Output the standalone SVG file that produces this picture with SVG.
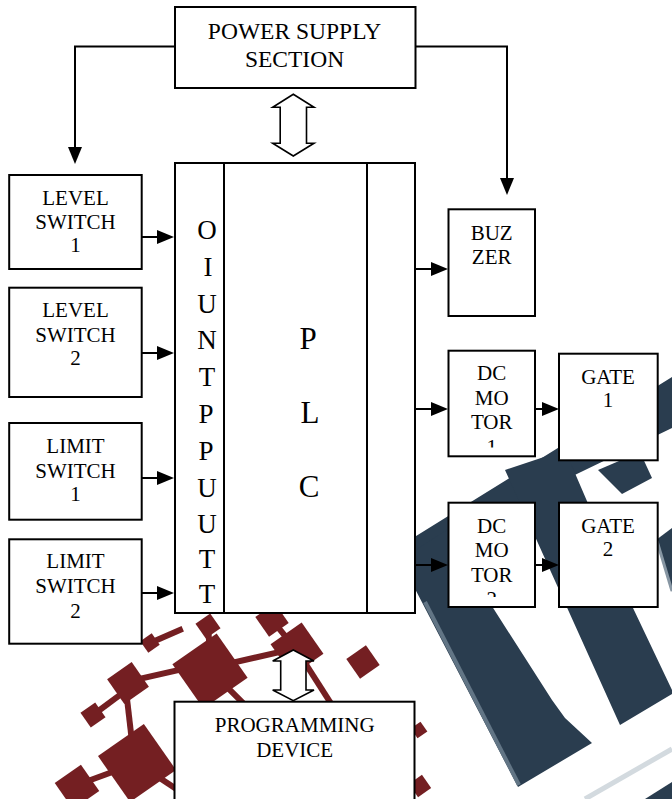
<svg xmlns="http://www.w3.org/2000/svg" width="672" height="799" viewBox="0 0 672 799">
<style>
.box{fill:#fff;stroke:#000;stroke-width:2}
.t{font-family:"Liberation Serif","Times New Roman",serif;font-size:21px;fill:#000;text-anchor:middle}
.big{font-size:23.5px}
.col{font-size:27px}
.plc{font-size:31px}
.ln{fill:none;stroke:#000;stroke-width:2}
.dbl{fill:#fff;stroke:#000;stroke-width:1.6;stroke-linejoin:miter}
.blue{fill:#2a3d4f}
.red{fill:#741f22}
.redl{stroke:#741f22;stroke-width:6;stroke-linecap:square;fill:none}
</style>
<defs>
<marker id="ah" viewBox="0 0 17 14" refX="11" refY="7" markerWidth="17" markerHeight="14" markerUnits="userSpaceOnUse" orient="auto">
<path d="M0,0 L17,7 L0,14 z" fill="#000"/>
</marker>
<clipPath id="clipDc1"><rect x="448" y="350" width="88" height="97.5"/></clipPath>
<clipPath id="clipDc2"><rect x="448" y="502" width="88" height="95"/></clipPath>
</defs>
<rect width="672" height="799" fill="#fff"/>
<g id="background">
<polygon class="blue" points="400,546 672,377 672,428 552,486 400,582"/>
<polygon class="blue" points="598,470 640,452 652,478 622,494"/>
<polygon class="blue" points="400,560 470,515 488,600 552,700 565,718 592,743 518,787"/>
<line x1="425" y1="602" x2="519" y2="785" stroke="#627585" stroke-width="4"/>
<polygon class="blue" points="505,470 565,450 633,608 672,690 672,694 620,725"/>
<polygon class="blue" points="656,540 672,528 672,592"/>
<line x1="657" y1="541" x2="672" y2="591" stroke="#8796a3" stroke-width="3"/>
<line x1="585" y1="799" x2="672" y2="749" stroke="#d3dadf" stroke-width="5"/>
<polygon class="blue" points="645,799 672,782 672,799"/>
<g>
<line class="redl" x1="77" y1="785" x2="137" y2="763"/>
<line class="redl" x1="126" y1="690" x2="132" y2="742"/>
<line class="redl" x1="135" y1="680" x2="205" y2="664"/>
<line class="redl" x1="210" y1="668" x2="297" y2="648"/>
<line class="redl" x1="215" y1="675" x2="248" y2="708"/>
<line class="redl" x1="300" y1="655" x2="332" y2="705"/>
<line class="redl" x1="208" y1="625" x2="210" y2="655"/>
<line class="redl" x1="272" y1="620" x2="295" y2="648"/>
<line class="redl" x1="150" y1="643" x2="180" y2="630"/>
<line class="redl" x1="137" y1="763" x2="178" y2="790"/>
<line class="redl" x1="93" y1="715" x2="120" y2="695"/>
<rect class="red" x="-28" y="-28" width="56" height="56" transform="translate(137,763) rotate(-35)"/>
<rect class="red" x="-16" y="-16" width="32" height="32" transform="translate(77,787) rotate(-35)"/>
<rect class="red" x="-9" y="-9" width="18" height="18" transform="translate(93,715) rotate(-35)"/>
<rect class="red" x="-15" y="-15" width="30" height="30" transform="translate(128,683) rotate(-35)"/>
<rect class="red" x="-27" y="-27" width="54" height="54" transform="translate(210,671) rotate(-35)"/>
<rect class="red" x="-19" y="-19" width="38" height="38" transform="translate(297,649) rotate(-35)"/>
<rect class="red" x="-12" y="-12" width="24" height="24" transform="translate(363,662) rotate(-35)"/>
<rect class="red" x="-12" y="-12" width="24" height="24" transform="translate(272,620) rotate(-35)"/>
<rect class="red" x="-9" y="-9" width="18" height="18" transform="translate(208,626) rotate(-35)"/>
<rect class="red" x="-7" y="-7" width="14" height="14" transform="translate(150,643) rotate(-35)"/>
<rect class="red" x="-6" y="-6" width="12" height="12" transform="translate(419,730) rotate(-35)"/>
<rect class="red" x="-8" y="-8" width="16" height="16" transform="translate(420,786) rotate(-35)"/>
</g>
</g>
<g id="power-supply">
<rect class="box" x="175" y="7" width="240.5" height="81"/>
<text class="t big" x="294.5" y="39.3">POWER SUPPLY</text>
<text class="t big" x="294.5" y="66.7">SECTION</text>
</g>
<g id="plc">
<rect class="box" x="175" y="163" width="240" height="450"/>
<line class="ln" x1="224" y1="163" x2="224" y2="613"/>
<line class="ln" x1="367" y1="163" x2="367" y2="613"/>
<text class="t col" x="207" y="239">O</text>
<text class="t col" x="208" y="275.8">I</text>
<text class="t col" x="207" y="312.8">U</text>
<text class="t col" x="207" y="349.4">N</text>
<text class="t col" x="207" y="386.2">T</text>
<text class="t col" x="206" y="423">P</text>
<text class="t col" x="206" y="459.6">P</text>
<text class="t col" x="207" y="496.6">U</text>
<text class="t col" x="207" y="533.2">U</text>
<text class="t col" x="207" y="567.8">T</text>
<text class="t col" x="207" y="603.3">T</text>
<text class="t plc" x="308" y="349.3">P</text>
<text class="t plc" x="310" y="423.3">L</text>
<text class="t plc" x="309" y="497">C</text>
</g>
<g id="level-switch-1">
<rect class="box" x="9.2" y="175" width="132.5" height="94"/>
<text class="t" x="75.5" y="205">LEVEL</text>
<text class="t" x="75.5" y="228.5">SWITCH</text>
<text class="t" x="75.5" y="252">1</text>
</g>
<g id="level-switch-2">
<rect class="box" x="9.2" y="287.7" width="132.5" height="109.3"/>
<text class="t" x="75.5" y="317.3">LEVEL</text>
<text class="t" x="75.5" y="341.7">SWITCH</text>
<text class="t" x="75.5" y="365">2</text>
</g>
<g id="limit-switch-1">
<rect class="box" x="9.2" y="423" width="132.5" height="96.7"/>
<text class="t" x="75.5" y="453.3">LIMIT</text>
<text class="t" x="75.5" y="478">SWITCH</text>
<text class="t" x="75.5" y="500.7">1</text>
</g>
<g id="limit-switch-2">
<rect class="box" x="9.2" y="539.3" width="132.5" height="104.4"/>
<text class="t" x="75.5" y="568.3">LIMIT</text>
<text class="t" x="75.5" y="592.7">SWITCH</text>
<text class="t" x="75.5" y="618.3">2</text>
</g>
<g id="buzzer">
<rect class="box" x="448.5" y="209.3" width="86.5" height="106.7"/>
<text class="t" x="491.7" y="240">BUZ</text>
<text class="t" x="491.7" y="264">ZER</text>
</g>
<g id="dc-motor-1">
<rect class="box" x="448.5" y="350.7" width="86.5" height="105.6"/>
<g clip-path="url(#clipDc1)">
<text class="t" x="491.7" y="380">DC</text>
<text class="t" x="491.7" y="405">MO</text>
<text class="t" x="491.7" y="429.3">TOR</text>
<text class="t" x="491.7" y="453.8">1</text>
</g>
</g>
<g id="gate-1">
<rect class="box" x="559" y="353.7" width="98.7" height="106.6"/>
<text class="t" x="608" y="384">GATE</text>
<text class="t" x="608" y="407.3">1</text>
</g>
<g id="dc-motor-2">
<rect class="box" x="448.5" y="502.7" width="86.5" height="104.3"/>
<g clip-path="url(#clipDc2)">
<text class="t" x="491.7" y="532.7">DC</text>
<text class="t" x="491.7" y="556.9">MO</text>
<text class="t" x="491.7" y="581.7">TOR</text>
<text class="t" x="491.7" y="606.3">2</text>
</g>
</g>
<g id="gate-2">
<rect class="box" x="559" y="502.7" width="98.7" height="104.3"/>
<text class="t" x="608" y="532.7">GATE</text>
<text class="t" x="608" y="556">2</text>
</g>
<g id="programming-device">
<rect class="box" x="174.5" y="701.7" width="240" height="120"/>
<text class="t" x="294.7" y="732.3">PROGRAMMING</text>
<text class="t" x="294.7" y="756.7">DEVICE</text>
</g>
<g id="connectors">
<path class="ln" d="M175,46.5 H75 V158" marker-end="url(#ah)"/>
<path class="ln" d="M415,46.5 H507 V189" marker-end="url(#ah)"/>
<line class="ln" x1="142" y1="237" x2="168" y2="237" marker-end="url(#ah)"/>
<line class="ln" x1="142" y1="353" x2="168" y2="353" marker-end="url(#ah)"/>
<line class="ln" x1="142" y1="478" x2="168" y2="478" marker-end="url(#ah)"/>
<line class="ln" x1="142" y1="593" x2="168" y2="593" marker-end="url(#ah)"/>
<line class="ln" x1="415" y1="269" x2="442" y2="269" marker-end="url(#ah)"/>
<line class="ln" x1="415" y1="409" x2="442" y2="409" marker-end="url(#ah)"/>
<line class="ln" x1="535" y1="409" x2="553" y2="409" marker-end="url(#ah)"/>
<line class="ln" x1="415" y1="565" x2="442" y2="565" marker-end="url(#ah)"/>
<line class="ln" x1="535" y1="565" x2="553" y2="565" marker-end="url(#ah)"/>
<polygon class="dbl" points="293.3,94.3 314,107.3 306.5,107.3 306.5,143.3 314,143.3 293.3,156 272.7,143.3 280.2,143.3 280.2,107.3 272.7,107.3"/>
<polygon class="dbl" points="293.3,650 314,661 306,661 306,690 314,690 293.3,700.7 272.7,690 280.7,690 280.7,661 272.7,661"/>
</g>
</svg>
